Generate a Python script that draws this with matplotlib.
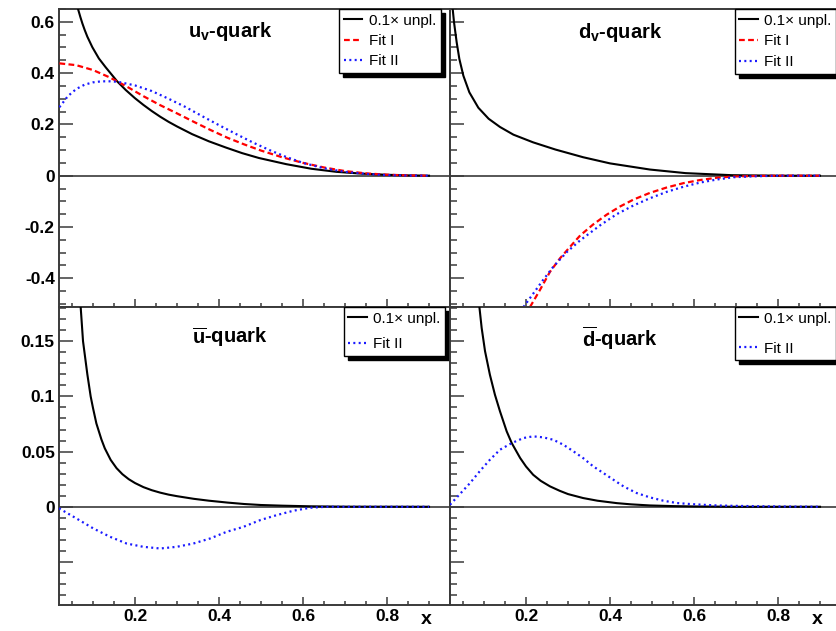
import matplotlib
matplotlib.use("Agg")
import matplotlib.pyplot as plt
from matplotlib.lines import Line2D
from matplotlib.ticker import MultipleLocator, FuncFormatter

plt.rcParams["font.family"] = ["Liberation Sans", "DejaVu Sans"]
plt.rcParams["font.weight"] = "bold"
plt.rcParams["mathtext.fontset"] = "custom"
plt.rcParams["mathtext.rm"] = "Liberation Sans"
plt.rcParams["mathtext.bf"] = "Liberation Sans:bold"
plt.rcParams["mathtext.it"] = "Liberation Sans:italic"

# ---------------- u_v quark ----------------
uv_unpl_x = [0.0643, 0.07, 0.0746, 0.08, 0.0865, 0.0984, 0.114, 0.13, 0.146,
             0.158, 0.178, 0.2, 0.22, 0.24, 0.26, 0.28, 0.3, 0.336, 0.376,
             0.416, 0.455, 0.495, 0.56, 0.62, 0.68, 0.74, 0.8, 0.85, 0.9]
uv_unpl_y = [0.65, 0.618, 0.594, 0.569, 0.542, 0.501, 0.457, 0.423, 0.391,
             0.367, 0.334, 0.302, 0.276, 0.252, 0.23, 0.21, 0.192, 0.162, 0.134,
             0.11, 0.088, 0.069, 0.045, 0.027, 0.015, 0.008, 0.0035, 0.0012, 0.0]

uv_fit1_x = [0.02, 0.06, 0.1, 0.14, 0.18, 0.22, 0.26, 0.3, 0.34, 0.38, 0.42,
             0.46, 0.5, 0.55, 0.6, 0.65, 0.7, 0.75, 0.8, 0.85, 0.9]
uv_fit1_y = [0.438, 0.431, 0.412, 0.383, 0.348, 0.31, 0.275, 0.243, 0.21, 0.178,
             0.148, 0.122, 0.098, 0.072, 0.05, 0.032, 0.018, 0.009, 0.004, 0.001, 0.0]

uv_fit2_x = [0.02, 0.04, 0.06, 0.08, 0.1, 0.12, 0.14, 0.16, 0.2, 0.24, 0.28,
             0.32, 0.36, 0.4, 0.44, 0.48, 0.52, 0.56, 0.6, 0.65, 0.7, 0.75,
             0.8, 0.85, 0.9]
uv_fit2_y = [0.267, 0.31, 0.338, 0.355, 0.364, 0.368, 0.368, 0.366, 0.352, 0.33,
             0.3, 0.268, 0.232, 0.197, 0.163, 0.13, 0.1, 0.073, 0.05, 0.029,
             0.015, 0.007, 0.002, 0.0005, 0.0]

# ---------------- d_v quark ----------------
dv_unpl_x = [0.0254, 0.0286, 0.0349, 0.0413, 0.0508, 0.0651, 0.0865, 0.111,
             0.138, 0.17, 0.217, 0.27, 0.336, 0.4, 0.495, 0.58, 0.69, 0.8, 0.9]
dv_unpl_y = [0.65, 0.598, 0.52, 0.455, 0.39, 0.325, 0.265, 0.222, 0.19, 0.16,
             0.13, 0.102, 0.072, 0.048, 0.024, 0.01, 0.002, 0.0, 0.0]

dv_fit1_x = [0.2095, 0.233, 0.257, 0.281, 0.305, 0.329, 0.36, 0.392, 0.424,
             0.456, 0.495, 0.535, 0.575, 0.614, 0.654, 0.694, 0.75, 0.8, 0.9]
dv_fit1_y = [-0.512, -0.446, -0.375, -0.322, -0.277, -0.233, -0.19, -0.152, -0.12,
             -0.093, -0.067, -0.046, -0.029, -0.017, -0.008, -0.003, -0.001, 0.0, 0.0]

dv_fit2_x = [0.194, 0.2175, 0.2405, 0.265, 0.297, 0.329, 0.376, 0.416, 0.456,
             0.495, 0.535, 0.575, 0.614, 0.654, 0.694, 0.75, 0.8, 0.9]
dv_fit2_y = [-0.512, -0.459, -0.407, -0.355, -0.298, -0.252, -0.194, -0.15, -0.116,
             -0.088, -0.063, -0.043, -0.027, -0.015, -0.006, -0.002, 0.0, 0.0]

# ---------------- u-bar quark ----------------
ub_unpl_x = [0.0706, 0.0762, 0.0865, 0.0944, 0.1, 0.108, 0.12, 0.128, 0.142,
             0.156, 0.17, 0.185, 0.2, 0.22, 0.24, 0.26, 0.28, 0.3, 0.34, 0.376,
             0.42, 0.46, 0.5, 0.55, 0.62, 0.7, 0.9]
ub_unpl_y = [0.181, 0.15, 0.12, 0.1, 0.0894, 0.0755, 0.061, 0.053, 0.0425,
             0.035, 0.0295, 0.025, 0.0215, 0.0178, 0.015, 0.0128, 0.011, 0.0096,
             0.0072, 0.0055, 0.0038, 0.0025, 0.0016, 0.001, 0.0004, 0.0001, 0.0]

ub_fit2_x = [0.019, 0.061, 0.101, 0.1405, 0.18, 0.22, 0.26, 0.299, 0.339, 0.379,
             0.418, 0.458, 0.498, 0.537, 0.577, 0.617, 0.656, 0.7, 0.8, 0.9]
ub_fit2_y = [-0.0014, -0.0107, -0.0197, -0.0272, -0.0333, -0.0363, -0.0378,
             -0.0363, -0.0333, -0.0287, -0.0227, -0.0182, -0.0121, -0.0076,
             -0.0036, -0.0009, 0.0, 0.0, 0.0, 0.0]

# ---------------- d-bar quark ----------------
db_unpl_x = [0.089, 0.0944, 0.1024, 0.114, 0.126, 0.138, 0.154, 0.166, 0.186,
             0.2, 0.217, 0.235, 0.257, 0.28, 0.3, 0.336, 0.37, 0.416, 0.45,
             0.495, 0.55, 0.6, 0.7, 0.9]
db_unpl_y = [0.181, 0.162, 0.141, 0.1196, 0.1015, 0.0865, 0.0683, 0.0577,
             0.0442, 0.0365, 0.029, 0.0235, 0.0185, 0.0145, 0.0115, 0.0079,
             0.0055, 0.0033, 0.0022, 0.0012, 0.0006, 0.0003, 0.0, 0.0]

db_fit2_x = [0.019, 0.0667, 0.0905, 0.114, 0.138, 0.166, 0.194, 0.217, 0.241,
             0.265, 0.289, 0.313, 0.336, 0.36, 0.384, 0.408, 0.432, 0.463, 0.495,
             0.527, 0.559, 0.59, 0.622, 0.654, 0.686, 0.75, 0.82, 0.9]
db_fit2_y = [0.0018, 0.0215, 0.0325, 0.0426, 0.0517, 0.0577, 0.0623, 0.0638,
             0.0629, 0.0607, 0.0562, 0.0502, 0.0441, 0.0366, 0.0306, 0.0245,
             0.0185, 0.0125, 0.0085, 0.0055, 0.0034, 0.0025, 0.0018, 0.0012,
             0.0009, 0.0005, 0.0002, 0.0]

LBL_UNPL = "0.1\u00d7 unpl."
LBL_FIT1 = "Fit I"
LBL_FIT2 = "Fit II"

# ---------------- styling ----------------
BLACK = "#000000"
RED = "#ff0000"
BLUE = "#1a1aff"
FRAME = "#3a3a3a"

style_unpl = dict(color=BLACK, lw=1.5, ls="-")
style_fit1 = dict(color=RED, lw=1.6, ls=(0, (2.6, 1.5)))
style_fit2 = dict(color=BLUE, lw=1.6, ls=(0, (0.9, 1.5)))

fig = plt.figure(figsize=(8.37, 6.31), dpi=100)
FW, FH = 837.0, 631.0
W = 391 / FW
H = 298 / FH
col_left = [59 / FW, 450 / FW]
row_bottom = [(FH - 307) / FH, (FH - 605) / FH]

XLIM = (0.019, 0.95)
YLIM_TOP = (-0.512, 0.65)
YLIM_BOT = (-0.089, 0.181)


def fmt_top(v, pos):
    if abs(v) < 1e-9:
        return "0"
    return "%g" % round(v, 3)


def fmt_bot(v, pos):
    if abs(v) < 1e-9:
        return "0"
    if v < 0:
        return ""
    return "%g" % round(v, 3)


def make_axes(row, col):
    ax = fig.add_axes([col_left[col], row_bottom[row], W, H])
    ax.set_xlim(*XLIM)
    ax.set_ylim(*(YLIM_TOP if row == 0 else YLIM_BOT))
    for sp in ax.spines.values():
        sp.set_color(FRAME)
        sp.set_linewidth(1.4)
    ax.xaxis.set_major_locator(MultipleLocator(0.2))
    ax.xaxis.set_minor_locator(MultipleLocator(0.05))
    if row == 0:
        ax.yaxis.set_major_locator(MultipleLocator(0.2))
        ax.yaxis.set_minor_locator(MultipleLocator(0.05))
        ax.yaxis.set_major_formatter(FuncFormatter(fmt_top))
    else:
        ax.yaxis.set_major_locator(MultipleLocator(0.05))
        ax.yaxis.set_minor_locator(MultipleLocator(0.01))
        ax.yaxis.set_major_formatter(FuncFormatter(fmt_bot))
    ax.tick_params(which="both", direction="in", colors=FRAME,
                   labelcolor="black", labelsize=12.5, width=1.1, pad=3,
                   top=False, right=False)
    ax.tick_params(axis="y", which="major", length=10)
    ax.tick_params(axis="y", which="minor", length=5)
    ax.tick_params(axis="x", which="major", length=6)
    ax.tick_params(axis="x", which="minor", length=3)
    ax.tick_params(labelbottom=(row == 1), labelleft=(col == 0))
    ax.axhline(0, color=FRAME, lw=1.2, zorder=1)
    if row == 1:
        ax.text(0.94, -0.05, "x", transform=ax.transAxes, ha="center",
                va="center", fontsize=14, fontweight="bold")
    return ax


def add_legend(ax, entries, x0, spacing):
    handles = [Line2D([], [], **st) for st, _ in entries]
    labels = [lb for _, lb in entries]
    leg = ax.legend(handles, labels, loc="upper left", bbox_to_anchor=(x0, 1.0),
                    borderaxespad=0, fancybox=False, framealpha=1,
                    edgecolor="black",
                    shadow={"color": "black", "alpha": 1, "ox": 2.9, "oy": -2.9},
                    prop={"family": "Liberation Sans", "weight": "normal",
                          "size": 11},
                    handlelength=1.2, handletextpad=0.45, labelspacing=spacing,
                    borderpad=0.3)
    leg.get_frame().set_linewidth(1.0)
    leg.set_zorder(10)
    return leg


# top-left: u_v
ax = make_axes(0, 0)
ax.plot(uv_unpl_x, uv_unpl_y, zorder=3, **style_unpl)
ax.plot(uv_fit1_x, uv_fit1_y, zorder=4, **style_fit1)
ax.plot(uv_fit2_x, uv_fit2_y, zorder=5, **style_fit2)
ax.text(0.437, 0.923, r"$\mathbf{u_v}$-quark", transform=ax.transAxes,
        ha="center", va="center", fontsize=14.5, fontweight="bold")
add_legend(ax, [(style_unpl, LBL_UNPL), (style_fit1, LBL_FIT1),
                (style_fit2, LBL_FIT2)], 0.716, 0.42)

# top-right: d_v
ax = make_axes(0, 1)
ax.plot(dv_unpl_x, dv_unpl_y, zorder=3, **style_unpl)
ax.plot(dv_fit1_x, dv_fit1_y, zorder=4, **style_fit1)
ax.plot(dv_fit2_x, dv_fit2_y, zorder=5, **style_fit2)
ax.text(0.435, 0.92, r"$\mathbf{d_v}$-quark", transform=ax.transAxes,
        ha="center", va="center", fontsize=14.5, fontweight="bold")
add_legend(ax, [(style_unpl, LBL_UNPL), (style_fit1, LBL_FIT1),
                (style_fit2, LBL_FIT2)], 0.728, 0.45)

# bottom-left: u-bar
ax = make_axes(1, 0)
ax.plot(ub_unpl_x, ub_unpl_y, zorder=3, **style_unpl)
ax.plot(ub_fit2_x, ub_fit2_y, zorder=5, **style_fit2)
ax.text(0.437, 0.898, r"$\mathbf{\overline{u}}$-quark", transform=ax.transAxes,
        ha="center", va="center", fontsize=14.5, fontweight="bold")
add_legend(ax, [(style_unpl, LBL_UNPL), (style_fit2, LBL_FIT2)], 0.728, 0.75)

# bottom-right: d-bar
ax = make_axes(1, 1)
ax.plot(db_unpl_x, db_unpl_y, zorder=3, **style_unpl)
ax.plot(db_fit2_x, db_fit2_y, zorder=5, **style_fit2)
ax.text(0.435, 0.895, r"$\mathbf{\overline{d}}$-quark", transform=ax.transAxes,
        ha="center", va="center", fontsize=14.5, fontweight="bold")
add_legend(ax, [(style_unpl, LBL_UNPL), (style_fit2, LBL_FIT2)], 0.728, 1.05)

fig.savefig("out.png", dpi=100)
